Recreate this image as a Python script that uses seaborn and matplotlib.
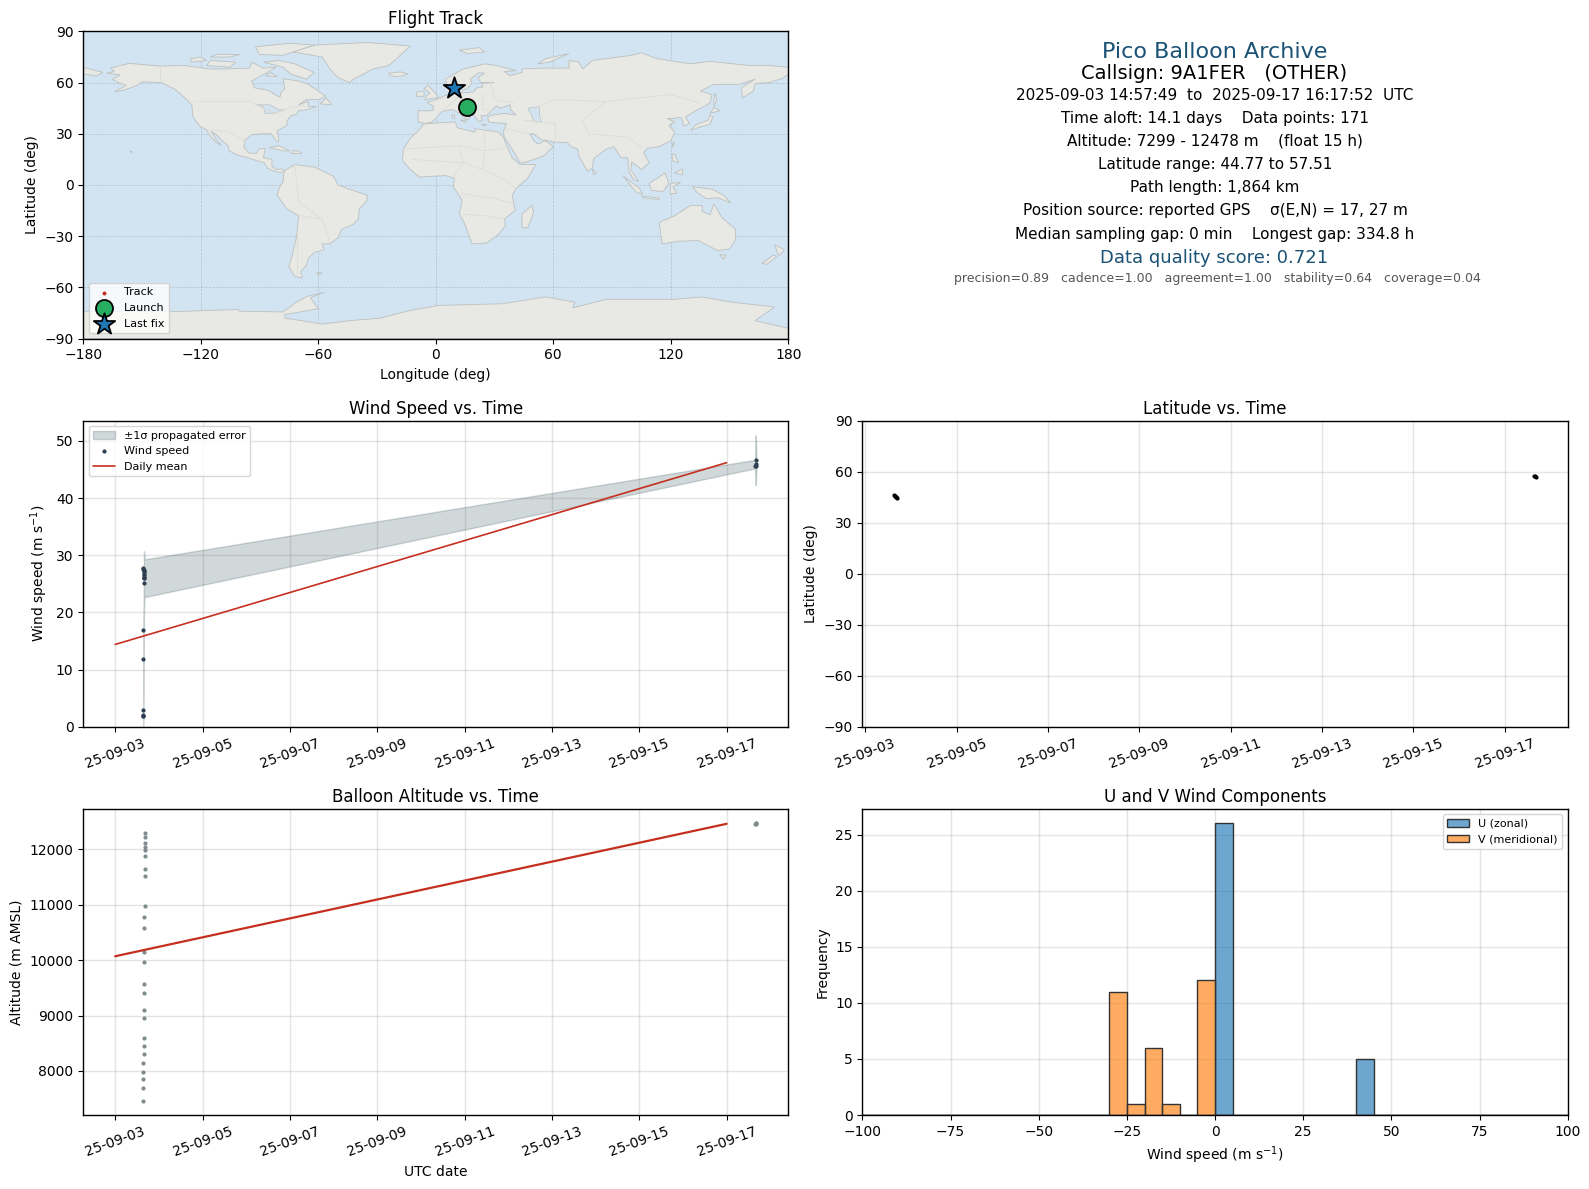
import pandas as pd
import matplotlib
matplotlib.use("Agg")
import matplotlib.pyplot as plt
import matplotlib.dates as mdates
import seaborn as sns

# values
launch_date = "2025-09-03"

wind_days = [0.628, 0.630, 0.632, 0.640, 0.642, 0.645, 0.652, 0.660, 0.662, 0.665, 0.660, 0.655, 0.650,
             0.648, 0.645, 0.658, 0.668, 14.660, 14.665, 14.670, 14.680]
wind_speed = [1.8, 2.0, 1.9, 3.0, 11.8, 17.0, 25.2, 26.0, 26.2, 26.7, 27.0, 27.2, 27.4, 27.6, 27.8, 26.5, 26.0,
              45.6, 45.6, 46.0, 46.6]
band_days = [0.640, 0.650, 0.660, 0.670, 0.680, 14.650, 14.660, 14.670, 14.680]
band_low = [0.0, 8.0, 20.0, 23.0, 22.7, 45.2, 42.3, 42.5, 45.4]
band_high = [4.0, 20.0, 30.7, 30.0, 29.3, 46.7, 51.0, 50.5, 46.8]
mean_days = [0.0, 14.0]
mean_wind = [14.4, 46.2]

alt_days = [0.640, 0.642, 0.644, 0.646, 0.648, 0.650, 0.652, 0.654, 0.656, 0.658, 0.660, 0.662, 0.664,
            0.666, 0.668, 0.670, 0.672, 0.674, 0.676, 0.678, 0.680, 0.682, 0.684, 0.686, 0.688,
            14.660, 14.665, 14.670, 14.680]
altitude = [7457, 7688, 7851, 7978, 8141, 8305, 8450, 8594, 8956, 9101, 9409, 9572, 9971,
            10150, 10585, 10785, 10983, 11527, 11637, 11872, 11985, 12035, 12106, 12215, 12288,
            12450, 12460, 12470, 12478]
mean_alt = [10070, 12460]

lat_days = [0.640, 0.650, 0.660, 0.670, 0.680, 0.700, 14.640, 14.660, 14.680]
latitude = [46.0, 45.8, 45.6, 45.3, 45.0, 44.77, 57.51, 57.3, 57.1]
track_lon = [15.9, 15.7, 15.4, 9.6, 9.4, 9.3]
track_lat = [45.8, 45.3, 44.77, 57.51, 57.3, 57.1]
launch_pos = (15.9, 45.8)
last_pos = (9.3, 57.1)

u_centers = [2.5, 42.5]
u_counts = [26, 5]
v_centers = [-27.5, -22.5, -17.5, -12.5, -2.5]
v_counts = [11, 1, 6, 1, 12]
hist_edges = list(range(-100, 105, 5))

info_lines = [
    "2025-09-03 14:57:49  to  2025-09-17 16:17:52  UTC",
    "Time aloft: 14.1 days    Data points: 171",
    "Altitude: 7299 - 12478 m    (float 15 h)",
    "Latitude range: 44.77 to 57.51",
    "Path length: 1,864 km",
    "Position source: reported GPS    σ(E,N) = 17, 27 m",
    "Median sampling gap: 0 min    Longest gap: 334.8 h",
]
info_y = [94, 117, 139, 162, 185, 208, 231]

# rough coastlines, lon/lat
land = {
    "north_america": [(-168,65.5),(-164,66.5),(-166,68.5),(-156.5,71.3),(-141,69.7),(-128,70),(-115,68),(-108,68),(-95,68.5),(-94,72),(-88,68.5),(-81.5,69),(-86,66),(-94,61),(-92.5,57),(-85,55.3),(-82,52.9),(-79.5,51.5),(-79,54.5),(-77,56.5),(-78,62.3),(-70,61),(-65,59),(-60,55),(-56,52),(-60,50),(-66,50),(-70,47),(-65,49),(-65,46),(-61,46),(-66,44),(-70,43.5),(-71,41.5),(-74,40.5),(-76,37.5),(-76,35),(-81,31.5),(-80,26),(-81,25.2),(-82.7,28),(-84,30),(-89,30),(-94,29.5),(-97.5,26),(-97.8,22),(-95.5,18.8),(-91.5,18.5),(-90.5,21),(-87,21.5),(-88,16),(-83.5,15),(-83.7,11),(-81.5,9),(-79,9.5),(-77,8.5),(-78,7.5),(-80.5,7.5),(-83,8.3),(-86,10),(-87.5,13),(-92,14.5),(-96,16),(-101,17.5),(-105.5,20),(-106,23),(-109,26),(-112.5,30),(-114.7,31.5),(-112,26.5),(-109.5,23),(-112,25),(-115,28.5),(-117.2,32.5),(-120.5,34.5),(-124,40),(-124.5,47),(-128,51),(-133,56),(-140,60),(-150,60.5),(-152,58.5),(-158,56),(-164,54.5),(-158,58.5),(-162,60),(-165,62),(-161,64.5)],
    "south_america": [(-77,8.5),(-72,12),(-62,10.5),(-52,5),(-50,0),(-44,-2.5),(-35,-6),(-35,-9),(-39,-14),(-39.5,-20),(-42,-23),(-48,-26),(-50,-31),(-54,-34.5),(-58,-34.5),(-57,-38),(-62,-39.5),(-65,-43),(-66,-47),(-69,-51),(-68,-54.5),(-72,-53.5),(-75,-48),(-73,-40),(-71,-30),(-70,-18),(-76,-14),(-81,-6),(-80,-2),(-78,2),(-77.5,7)],
    "greenland": [(-73,78),(-62,82),(-35,83.5),(-13,81.5),(-20,74),(-24,70),(-32,68),(-42,62),(-44,60),(-50,63),(-54,68),(-58,75)],
    "baffin": [(-80,73),(-72,71),(-62,66),(-66,62),(-74,65),(-78,69),(-88,72)],
    "victoria": [(-117,70),(-105,69),(-102,72),(-115,73)],
    "ellesmere": [(-90,76.5),(-78,76),(-62,82),(-75,83),(-92,81)],
    "banks": [(-125,72),(-117,73),(-120,75),(-125,74)],
    "melville": [(-115,75),(-105,75),(-100,76.5),(-112,76.5)],
    "southampton": [(-87,64),(-81,63.5),(-84,65.8)],
    "newfoundland": [(-59,47.5),(-53,47),(-56,51)],
    "cuba": [(-85,22),(-80,23),(-74.5,20),(-78,20)],
    "hispaniola": [(-74,18.5),(-68.5,18.5),(-70,20),(-73,20)],
    "hawaii": [(-156,20),(-155,19.5),(-155.7,19)],
    "falklands": [(-61,-51.5),(-58,-51.5),(-59,-52.3)],
    "iceland": [(-24,65.5),(-18,66.3),(-14,65),(-19,63.4),(-23,64)],
    "eurasia": [(-9,37),(-9,43.5),(-1.5,43.5),(-1,46),(-4.5,48.3),(1.5,50.5),(4,52),(8,54),(8.5,57),(10.5,57.5),(10,54.5),(14,54),(19,54.5),(21,57),(24,57.5),(23.5,59.5),(30,60),(23,60),(21.5,63),(25,65.5),(22,65.8),(17.5,62),(18.5,60),(16.5,57),(14,55.5),(11,59),(5.5,58.5),(5,62),(14,68),(25,71),(31,70),(41,67),(35,66.5),(38,64),(44,66),(44,68),(54,68.5),(68,68.5),(68,73),(73,72),(75,68),(80,73),(100,76),(105,77.5),(113,74),(130,71),(140,72.5),(160,70),(170,70),(180,69),(180,65),(177,62.5),(170,60),(163,59.5),(162,55),(156.5,51),(156,57),(163,62),(155,59),(142,59),(135,55),(141,53),(140,48),(132,43),(127.5,39.8),(129.5,36),(126.5,34.5),(126,37.5),(125,39.7),(121,39),(118,39),(122,37),(119,35),(122,31),(120,26),(114,22.5),(108,21.5),(106,19),(109,13),(105,9),(103,11),(100,13.5),(99.5,9),(103.5,2),(101,3),(98.5,8),(98,16),(94.5,16),(91,22.5),(87,21),(80.5,15.5),(80,10),(77.5,8),(73,17),(72.5,21),(69,22.5),(67,25),(61,25),(57,26),(54,26.5),(50,30),(48,30),(50,26),(52,24),(56,26),(60,22.5),(55,17),(45,13),(43,13),(39,21),(35,28),(34.5,31),(36,36),(30,36.5),(27,37),(26.5,40),(29,41),(35,42),(41,41),(38,44.5),(38,47),(33,45),(31,46.5),(28,43),(26,40.7),(23,40.5),(24,38),(22,37),(19.5,41),(19,42),(13.5,45.5),(12.5,44),(18,40.5),(16,38),(12,42),(8.5,44.3),(3,43),(0,39),(-2,36.8),(-5.5,36)],
    "chukotka": [(-180,69),(-170,66),(-173,64),(-180,65)],
    "africa": [(-6,35.8),(10,37),(11,33.5),(20,31),(20,33),(32,31),(34.5,28),(37,21),(39,16),(43,12),(51,12),(47,4),(41,-2),(39,-6),(40.5,-15),(35,-20),(35.5,-24),(32,-29),(26,-34),(18.5,-34.5),(14.5,-22),(12,-17),(13.5,-9),(9,-1),(9.5,4),(5,5.5),(-4,5),(-8,4.5),(-13,9),(-17,14.5),(-16.5,21),(-13,27.5),(-9.5,31)],
    "britain": [(-5.5,50),(1.5,51.3),(0,53.5),(-2,56),(-4,58.5),(-6,56.5),(-3,54),(-5,52)],
    "ireland": [(-10,52),(-6,52),(-6,55),(-9.5,54.5)],
    "sicily": [(12.5,38),(15.5,38),(15,36.8)],
    "sardinia": [(8.3,41),(9.7,41),(9.5,39),(8.5,39)],
    "crete": [(23.5,35.5),(26,35.2),(24.5,34.9)],
    "australia": [(114,-22),(122,-18),(130,-12),(136,-12),(136,-15.5),(140,-17.5),(142,-11),(146,-19),(153,-26),(153,-32),(150,-37.5),(144,-38.5),(138,-35),(134,-32.5),(124,-33),(115.5,-34.5)],
    "nz_north": [(173,-35),(178,-38),(175,-41.5)],
    "nz_south": [(172.5,-41),(174,-42),(169,-46.5),(166.5,-46)],
    "tasmania": [(145,-41),(148,-41),(147,-43.5)],
    "madagascar": [(49,-12),(50,-16),(47,-25),(44,-25),(44,-17)],
    "honshu": [(130,32),(135,34),(140,35.5),(141.5,40),(140,41),(139,38),(133,35.5)],
    "hokkaido": [(140,42),(145,43.5),(142,45.5)],
    "sakhalin": [(142,46),(143.5,50),(142.5,54),(142,50)],
    "sumatra": [(95.5,5.5),(104,-2),(105.5,-5.5),(102,-4),(98,2)],
    "java": [(105,-6.5),(114,-7.5),(114,-8.5),(106,-7.5)],
    "borneo": [(109,1),(117,7),(119,1),(116,-4),(110,-3)],
    "sulawesi": [(119.5,-5),(120,1),(125,1.5),(121,-1),(123,-5)],
    "new_guinea": [(131,-1),(141,-2.5),(147,-6),(150.5,-10.5),(144,-7.5),(138,-8),(133,-4)],
    "luzon": [(120.5,18),(122,18),(124,13),(121,14)],
    "mindanao": [(122,7),(126,9.5),(126,6)],
    "sri_lanka": [(80,9.5),(82,7),(80.5,6)],
    "taiwan": [(121,25),(122,25),(120.8,22)],
    "svalbard": [(12,79),(22,80.5),(25,78),(16,77)],
    "novaya": [(52,71),(56,74),(68,77),(58,72)],
    "antarctica": [(-180,-90),(-180,-74),(-136,-74.3),(-101,-73),(-100,-74),(-78,-74.4),(-71,-68.5),(-65,-65),(-57,-63),(-64,-66),(-60,-72.5),(-77,-76),(-77,-78),(-58,-81.5),(-43,-79.4),(-28,-78),(-15,-74),(1,-70.6),(34,-69.6),(56,-65.6),(71,-68.7),(70,-72),(87,-67),(122,-67),(136,-65.6),(150,-68.5),(173,-71.5),(163,-79.5),(180,-84),(180,-90)],
}
lakes = {
    "great_lakes": [(-92,47),(-85,47),(-80,44),(-77,44),(-83,42),(-87,42),(-88,46)],
    "caspian": [(47,45),(53,46),(53,40),(54,37),(50,37),(49,41)],
}
borders = [
    [(-123,49),(-95,49),(-82,42),(-75,45),(-67,47)],
    [(-141,60),(-141,70)],
    [(-117,32.5),(-106,31.5),(-97,26)],
    [(-70,-18),(-58,-20),(-54,-34)],
    [(-72,12),(-70,-10),(-58,-20)],
    [(-71,-30),(-71,-52)],
    [(-17,21),(12,23),(25,20),(37,22)],
    [(25,31),(25,20),(24,9),(34,4),(41,-2)],
    [(12,23),(14,13),(9,5)],
    [(-12,15),(14,13),(24,9)],
    [(13,-5),(30,-8),(40,-11)],
    [(12,-17),(25,-18),(35,-20)],
    [(28,60),(30,50),(40,48)],
    [(3,43),(8,48),(14,54)],
    [(24,54),(24,45),(28,43)],
    [(50,44),(60,50),(87,49),(120,53),(135,48)],
    [(87,49),(75,38),(78,30),(98,28),(105,22)],
    [(45,38),(61,36),(61,25)],
    [(36,33),(48,30)],
]

sns.set_theme(style="ticks", rc={"axes.edgecolor": "black", "axes.linewidth": 1.0,
                                 "xtick.color": "black", "ytick.color": "black",
                                 "xtick.major.size": 3.5, "ytick.major.size": 3.5,
                                 "xtick.major.width": 0.8, "ytick.major.width": 0.8,
                                 "axes.labelcolor": "black", "text.color": "black", "axes.titlepad": 5,
                                 "grid.color": "#a8a8a8", "grid.alpha": 0.3, "grid.linewidth": 1.0})
plt.rcParams["font.family"] = ["DejaVu Sans"]

RED = "#c62f1f"
NAVY = "#2c3e50"
BAND = "#2a4a50"
TITLE_BLUE = "#1a5276"

fig = plt.figure(figsize=(15.89, 11.89), dpi=100)


def make_axes(x0, x1, y0, y1):
    return fig.add_axes([x0 / 1568, 1 - y1 / 1173, (x1 - x0) / 1568, (y1 - y0) / 1173])


def to_dates(days):
    return pd.Timestamp(launch_date) + pd.to_timedelta(days, unit="D")


def fmt_time_axis(ax):
    ax.xaxis.set_major_locator(mdates.DayLocator(bymonthday=range(3, 31, 2)))
    ax.xaxis.set_major_formatter(mdates.DateFormatter("%y-%m-%d"))
    ax.tick_params(axis="x", rotation=20)
    ax.grid(True)
    ax.set_axisbelow(True)


# map
ax_map = make_axes(82, 778, 31, 334)
ax_map.set_facecolor("#d2e4f1")
for name, pts in land.items():
    lon, lat = zip(*pts)
    ax_map.fill(lon, lat, facecolor="#e8e8e4", edgecolor="#bcc0c0", linewidth=0.6, zorder=1)
for name, pts in lakes.items():
    lon, lat = zip(*pts)
    ax_map.fill(lon, lat, facecolor="#d2e4f1", edgecolor="#bcc0c0", linewidth=0.5, zorder=1.1)
for pts in borders:
    lon, lat = zip(*pts)
    ax_map.plot(lon, lat, color="#dcdcd8", linewidth=0.6, zorder=1.2)
ax_map.grid(True, color="#808080", alpha=0.35, linewidth=0.5, linestyle="--", zorder=1.5)
sns.scatterplot(x=track_lon, y=track_lat, color=RED, s=8, linewidth=0, label="Track", ax=ax_map, zorder=2)
sns.scatterplot(x=[launch_pos[0]], y=[launch_pos[1]], color="#27ae60", s=150, edgecolor="black", linewidth=1.3,
                marker="o", label="Launch", ax=ax_map, zorder=3)
sns.scatterplot(x=[last_pos[0]], y=[last_pos[1]], color="#1f77b4", s=260, edgecolor="black", linewidth=1.3,
                marker="*", label="Last fix", ax=ax_map, zorder=4)
ax_map.set_xlim(-180, 180)
ax_map.set_ylim(-90, 90)
ax_map.set_xticks(range(-180, 181, 60))
ax_map.set_yticks(range(-90, 91, 30))
ax_map.tick_params(labelsize=10)
ax_map.set_xlabel("Longitude (deg)", fontsize=10)
ax_map.set_ylabel("Latitude (deg)", fontsize=10)
ax_map.set_title("Flight Track", fontsize=12)
ax_map.legend(loc="lower left", fontsize=8, labelspacing=0.5, framealpha=0.8)

# summary text
ax_txt = make_axes(851, 1547, 31, 334)
ax_txt.axis("off")


def put_text(ypix, s, x=0.5, **kw):
    ax_txt.text(x, (334 - ypix) / 303, s, ha="center", va="center", transform=ax_txt.transAxes, **kw)


put_text(51, "Pico Balloon Archive", fontsize=16, color=TITLE_BLUE)
put_text(73, "Callsign: 9A1FER   (OTHER)", x=0.4985, fontsize=14)
for y, line in zip(info_y, info_lines):
    put_text(y, line, fontsize=11)
put_text(255, "Data quality score: 0.721", x=0.4985, fontsize=13, color=TITLE_BLUE)
put_text(275, "precision=0.89   cadence=1.00   agreement=1.00   stability=0.64   coverage=0.04",
         x=0.5035, fontsize=9, color="#555555")

# wind speed
ax_wind = make_axes(82, 778, 415, 717)
ax_wind.fill_between(to_dates(band_days), band_low, band_high, color=BAND, alpha=0.21, label="±1σ propagated error")
sns.scatterplot(x=to_dates(wind_days), y=wind_speed, color=NAVY, s=9, linewidth=0, label="Wind speed", ax=ax_wind, zorder=3)
sns.lineplot(x=to_dates(mean_days), y=mean_wind, color=RED, linewidth=1.2, label="Daily mean", ax=ax_wind, zorder=4)
ax_wind.set_ylim(bottom=0)
fmt_time_axis(ax_wind)
ax_wind.tick_params(labelsize=10)
ax_wind.set_xlabel("")
ax_wind.set_ylabel("Wind speed (m s$^{-1}$)", fontsize=10)
ax_wind.set_title("Wind Speed vs. Time", fontsize=12)
ax_wind.legend(loc="upper left", fontsize=8, framealpha=0.8)

# latitude
ax_lat = make_axes(851, 1547, 415, 717)
sns.scatterplot(x=to_dates(lat_days), y=latitude, color="black", s=9, linewidth=0, ax=ax_lat, zorder=3)
ax_lat.set_ylim(-90, 90)
ax_lat.set_yticks(range(-90, 91, 30))
fmt_time_axis(ax_lat)
ax_lat.tick_params(labelsize=10)
ax_lat.set_xlabel("")
ax_lat.set_ylabel("Latitude (deg)", fontsize=10)
ax_lat.set_title("Latitude vs. Time", fontsize=12)

# altitude
ax_alt = make_axes(82, 778, 798, 1100)
sns.scatterplot(x=to_dates(alt_days), y=altitude, color="#7f8c8d", s=9, linewidth=0, ax=ax_alt, zorder=3)
sns.lineplot(x=to_dates(mean_days), y=mean_alt, color=RED, linewidth=1.6, ax=ax_alt, zorder=4)
fmt_time_axis(ax_alt)
ax_alt.tick_params(labelsize=10)
ax_alt.set_xlabel("UTC date", fontsize=10)
ax_alt.set_ylabel("Altitude (m AMSL)", fontsize=10)
ax_alt.set_title("Balloon Altitude vs. Time", fontsize=12)

# U/V histogram
ax_hist = make_axes(851, 1547, 798, 1100)
sns.histplot(x=u_centers, weights=u_counts, bins=hist_edges, color="#1f77b4", alpha=0.65, edgecolor="#333333",
             linewidth=1.0, label="U (zonal)", ax=ax_hist)
sns.histplot(x=v_centers, weights=v_counts, bins=hist_edges, color="#ff7f0e", alpha=0.65, edgecolor="#333333",
             linewidth=1.0, label="V (meridional)", ax=ax_hist)
ax_hist.set_xlim(-100, 100)
ax_hist.grid(True)
ax_hist.set_axisbelow(True)
ax_hist.tick_params(labelsize=10)
ax_hist.set_xlabel("Wind speed (m s$^{-1}$)", fontsize=10)
ax_hist.set_ylabel("Frequency", fontsize=10)
ax_hist.set_title("U and V Wind Components", fontsize=12)
ax_hist.legend(loc="upper right", fontsize=8, framealpha=0.8)

fig.savefig("out.png", dpi=100)
